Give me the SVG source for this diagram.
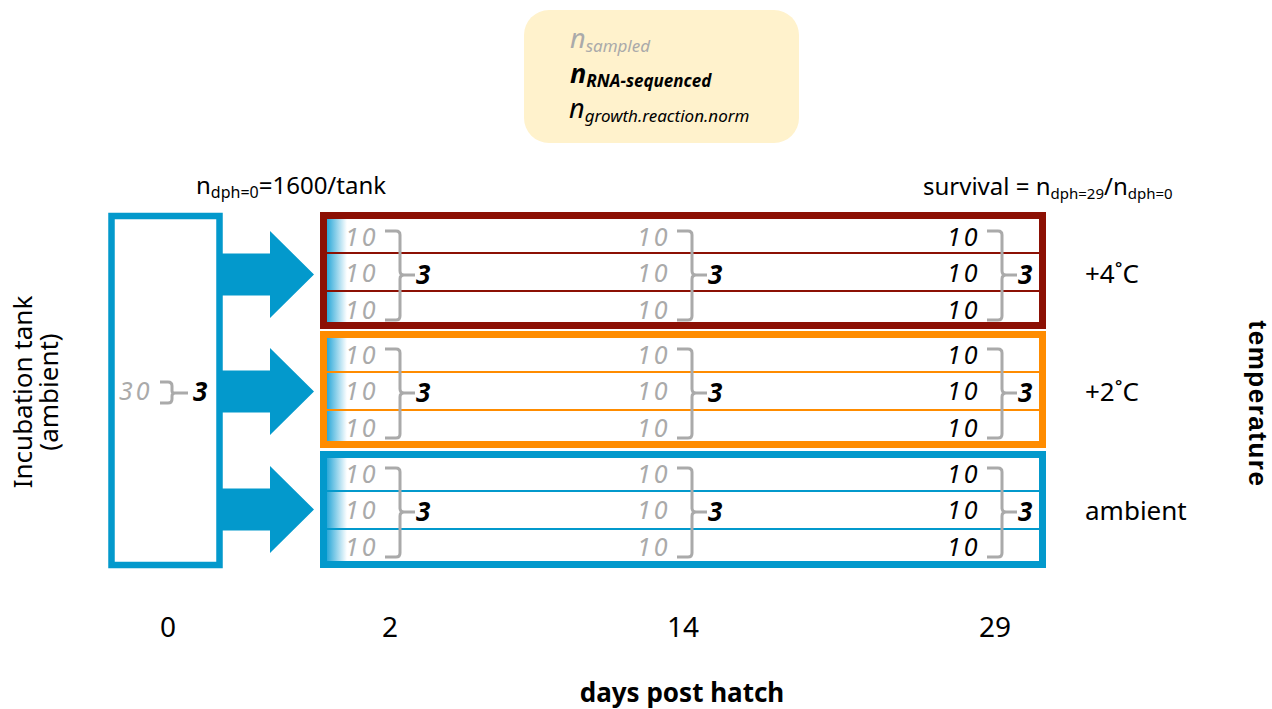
<svg xmlns="http://www.w3.org/2000/svg" width="1272" height="709" viewBox="0 0 1272 709">
<style>
text{font-family:"Noto Sans","DejaVu Sans",sans-serif;}
.n{font-size:25px;font-style:italic;fill:#AAAAAA;letter-spacing:3px;}
.nb{font-size:25px;font-style:italic;fill:#000;letter-spacing:3px;}
.r{font-size:26px;font-style:italic;font-weight:bold;fill:#000;}
.br{fill:none;stroke:#AAAAAA;stroke-width:3;stroke-linejoin:round;}
.lbl{font-size:26px;fill:#000;}
.ax{font-size:28px;fill:#000;}
.tank{fill:#fff;stroke-width:7;}
.row{stroke-width:2;}
.arrow{fill:#0399CC;}
.vt{font-family:"Liberation Sans",Arial,sans-serif;font-size:26px;font-weight:bold;letter-spacing:1.5px;}
</style>
<defs>
<linearGradient id="fade" x1="0" y1="0" x2="1" y2="0">
<stop offset="0" stop-color="#2BA8D8"/>
<stop offset="1" stop-color="#2BA8D8" stop-opacity="0"/>
</linearGradient>
<g id="col">
<text class="n" x="0" y="246">10</text>
<text class="n" x="0" y="282">10</text>
<text class="n" x="0" y="319">10</text>
<path class="br" d="M40,231 H51 Q55,231 55,235 V271 Q55,275 59,275 H70 M59,275 Q55,275 55,279 V316 Q55,320 51,320 H40"/>
<text class="r" x="71" y="284">3</text>
</g>
<g id="col3">
<text class="nb" x="0" y="246">10</text>
<text class="nb" x="0" y="282">10</text>
<text class="nb" x="0" y="319">10</text>
<path class="br" d="M40,231 H51 Q55,231 55,235 V271 Q55,275 59,275 H70 M59,275 Q55,275 55,279 V316 Q55,320 51,320 H40"/>
<text class="r" x="71" y="284">3</text>
</g>
</defs>

<g id="legend">
<rect x="524" y="10" width="275" height="133" rx="25" fill="#FFF2CC"/>
<text x="570" y="48" font-size="27" font-style="italic" fill="#AAAAAA">n<tspan font-size="17" dy="4">sampled</tspan></text>
<text x="570" y="83" font-size="27" font-style="italic" font-weight="bold" fill="#000">n<tspan font-size="17" dy="4">RNA-sequenced</tspan></text>
<text x="569" y="118" font-size="27" font-style="italic" fill="#000">n<tspan font-size="17" dy="4">growth.reaction.norm</tspan></text>
</g>

<g id="header-left">
<text x="196" y="194" font-size="24">n<tspan font-size="16" dy="4">dph=0</tspan><tspan dy="-4">=1600/tank</tspan></text>
</g>
<g id="header-right">
<text x="923" y="195" font-size="24">survival = n<tspan font-size="15" dy="4">dph=29</tspan><tspan dy="-4">/n</tspan><tspan font-size="15" dy="4">dph=0</tspan></text>
</g>

<g id="incubation-tank">
<rect x="111.5" y="216" width="108" height="349" fill="#fff" stroke="#0399CC" stroke-width="6.5"/>
<text class="n" x="119" y="400">30</text>
<path class="br" d="M160,382 H168 Q172,382 172,386 V391 Q172,393 175,393 H188 M175,393 Q172,393 172,396 V399 Q172,403 168,403 H160"/>
<text class="r" x="193" y="401">3</text>
</g>

<g id="connectors">
<polygon class="arrow" points="222,253.5 270,253.5 270,231 314,274.5 270,318 270,295.5 222,295.5"/>
<polygon class="arrow" points="222,370.5 270,370.5 270,348 314,391.5 270,435 270,412.5 222,412.5"/>
<polygon class="arrow" points="222,488.5 270,488.5 270,466 314,509.5 270,553 270,530.5 222,530.5"/>
</g>

<g id="tank-plus4">
<rect class="tank" x="323.5" y="215.5" width="719" height="110" stroke="#8C1004"/>
<rect x="327" y="219" width="20" height="103" fill="url(#fade)"/>
<line class="row" x1="327" y1="253" x2="1039" y2="253" stroke="#8C1004"/>
<line class="row" x1="327" y1="291" x2="1039" y2="291" stroke="#8C1004"/>
<use href="#col" x="345" y="0"/>
<use href="#col" x="637" y="0"/>
<use href="#col3" x="947" y="0"/>
</g>

<g id="tank-plus2">
<rect class="tank" x="323.5" y="334.5" width="719" height="110" stroke="#FF8C00"/>
<rect x="327" y="338" width="20" height="103" fill="url(#fade)"/>
<line class="row" x1="327" y1="372" x2="1039" y2="372" stroke="#FF8C00"/>
<line class="row" x1="327" y1="410" x2="1039" y2="410" stroke="#FF8C00"/>
<use href="#col" x="345" y="118"/>
<use href="#col" x="637" y="118"/>
<use href="#col3" x="947" y="118"/>
</g>

<g id="tank-ambient">
<rect class="tank" x="323.5" y="454.5" width="719" height="110" stroke="#0399CC"/>
<rect x="327" y="458" width="20" height="103" fill="url(#fade)"/>
<line class="row" x1="327" y1="491" x2="1039" y2="491" stroke="#0399CC"/>
<line class="row" x1="327" y1="529" x2="1039" y2="529" stroke="#0399CC"/>
<use href="#col" x="345" y="237"/>
<use href="#col" x="637" y="237"/>
<use href="#col3" x="947" y="237"/>
</g>

<g id="temp-labels">
<text class="lbl" x="1085" y="283">+4˚C</text>
<text class="lbl" x="1085" y="401">+2˚C</text>
<text class="lbl" x="1085" y="520">ambient</text>
<text class="vt" x="1249" y="404" text-anchor="middle" transform="rotate(90 1249 404)">temperature</text>
</g>

<g id="left-label">
<text font-size="26" text-anchor="middle" transform="translate(32,392) rotate(-90)"><tspan x="0" y="0">Incubation tank</tspan><tspan x="0" y="26">(ambient)</tspan></text>
</g>

<g id="axis">
<text class="ax" x="168" y="637" text-anchor="middle">0</text>
<text class="ax" x="390" y="637" text-anchor="middle">2</text>
<text class="ax" x="683" y="637" text-anchor="middle">14</text>
<text class="ax" x="995" y="637" text-anchor="middle">29</text>
<text x="682" y="702" font-size="26" font-weight="bold" text-anchor="middle">days post hatch</text>
</g>
</svg>
